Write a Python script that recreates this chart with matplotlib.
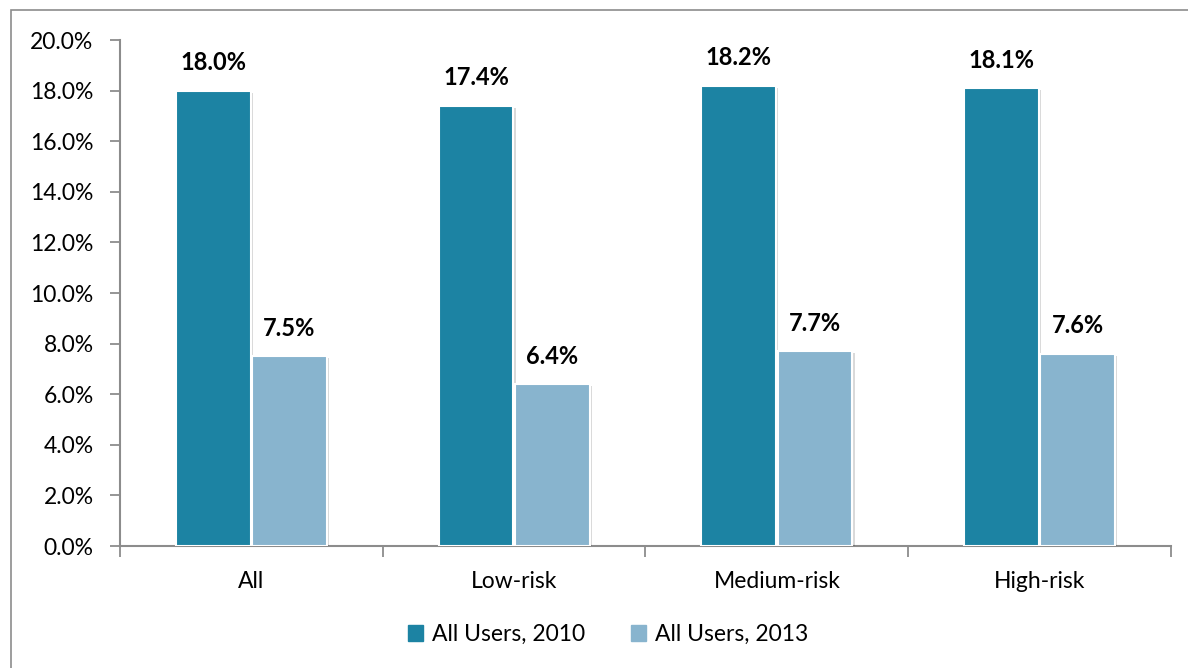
import matplotlib
matplotlib.use("Agg")
import matplotlib.pyplot as plt
import matplotlib.patches as mpatches
import matplotlib.patheffects as pe
import numpy as np

categories = ["All", "Low-risk", "Medium-risk", "High-risk"]
users_2010 = [18.0, 17.4, 18.2, 18.1]
users_2013 = [7.5, 6.4, 7.7, 7.6]
series_names = ["All Users, 2010", "All Users, 2013"]

DARK = "#1c83a3"
LIGHT = "#88b4ce"
GRID = "#8c8c8c"
FS = 16.5

plt.rcParams['font.family'] = ['Lato', 'DejaVu Sans']

fig = plt.figure(figsize=(11.88, 6.68), dpi=100)
ax = fig.add_axes([0.101, 0.1826, 0.8847, 0.7575])

# outer chart frame
fig.patches.append(mpatches.Rectangle((0.009, -0.1), 1.2, 1.085, transform=fig.transFigure,
                                      fill=False, edgecolor="#8c8c8c", linewidth=1.2))

x = np.arange(len(categories)) + 0.5
w = 0.285
off = 0.145
shadow = [pe.SimplePatchShadow(offset=(1.5, -1.5), shadow_rgbFace="#000000", alpha=0.15), pe.Normal()]

b1 = ax.bar(x - off, users_2010, w, color=DARK, edgecolor="white", linewidth=1.5,
            label=series_names[0], zorder=3)
b2 = ax.bar(x + off, users_2013, w, color=LIGHT, edgecolor="white", linewidth=1.5,
            label=series_names[1], zorder=3)
for b in list(b1) + list(b2):
    b.set_path_effects(shadow)

for xi, v in zip(x - off, users_2010):
    ax.text(xi, v + 1.1, f"{v:.1f}%", ha="center", va="center", fontsize=17,
            fontweight="bold", color="black")
for xi, v in zip(x + off, users_2013):
    ax.text(xi, v + 1.1, f"{v:.1f}%", ha="center", va="center", fontsize=17,
            fontweight="bold", color="black")

ax.set_xlim(0, 4)
ax.set_ylim(0, 20)
ax.set_yticks(np.arange(0, 21, 2))
ax.set_yticklabels([f"{t:.1f}%" for t in np.arange(0, 21, 2)])
ax.tick_params(axis="y", length=7, width=1.3, color=GRID, pad=12, labelsize=FS)

ax.set_xticks(np.arange(0, 5))
ax.set_xticklabels([])
ax.set_xticks(x, minor=True)
ax.set_xticklabels(categories, minor=True)
ax.tick_params(axis="x", which="major", length=8, width=1.3, color=GRID, direction="out")
ax.tick_params(axis="x", which="minor", length=0, pad=18, labelsize=FS)

for s in ["top", "right"]:
    ax.spines[s].set_visible(False)
for s in ["left", "bottom"]:
    ax.spines[s].set_color(GRID)
    ax.spines[s].set_linewidth(1.5)

leg = fig.legend(handles=[mpatches.Patch(color=DARK, label=series_names[0]),
                          mpatches.Patch(color=LIGHT, label=series_names[1])],
                 loc="center", bbox_to_anchor=(0.512, 0.05), ncol=2, frameon=False,
                 fontsize=FS, handlelength=0.65, handleheight=0.65, handletextpad=0.4,
                 columnspacing=2.0)

fig.savefig("out.png", dpi=100, facecolor="white")
